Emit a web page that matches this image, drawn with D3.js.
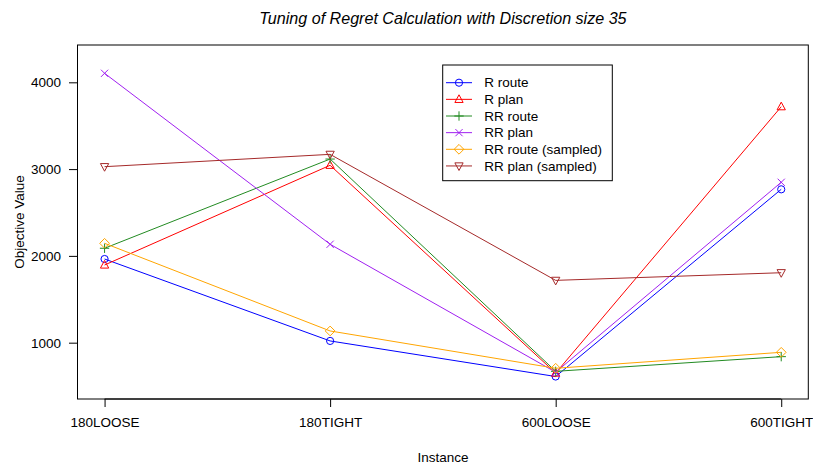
<!DOCTYPE html>
<html><head><meta charset="utf-8">
<script src="https://cdn.jsdelivr.net/npm/d3@7"></script>
<style>
body{margin:0;background:#fff;}
text{font-family:"Liberation Sans",Arial,sans-serif;}
</style></head>
<body><svg id="c" width="813" height="466"></svg>
<script>
const categories = ["180LOOSE","180TIGHT","600LOOSE","600TIGHT"];
const seriesNames = ["R route","R plan","RR route","RR plan","RR route (sampled)","RR plan (sampled)"];
const rRoute   = [1964, 1020, 610, 2767];
const rPlan    = [1895, 3044, 650, 3719];
const rrRoute  = [2088, 3116, 670, 839];
const rrPlan   = [4104, 2134, 660, 2848];
const rrRouteS = [2145, 1135, 705, 889];
const rrPlanS  = [3028, 3170, 1718, 1806];
const yTicks   = [1000, 2000, 3000, 4000];

const seriesValues = [rRoute, rPlan, rrRoute, rrPlan, rrRouteS, rrPlanS];
const colors = ["#0000FF","#FF0000","#228B22","#A020F0","#FFA500","#A52A2A"];
const shapes = ["circle","triUp","plus","cross","diamond","triDown"];

const svg = d3.select("#c");
const L=77.5, R=808.3, T=45, B=399;
const x = d3.scalePoint().domain(categories).range([L,R]).padding(0.12);
const y = d3.scaleLinear().domain([351, 4430]).range([B,T]);

function sym(shape){
  const s=3.6;
  switch(shape){
    case "circle": return `M${-s},0A${s},${s} 0 1,0 ${s},0A${s},${s} 0 1,0 ${-s},0Z`;
    case "triUp": {const h=s*1.15; return `M0,${-h*1.1}L${h},${h*0.75}L${-h},${h*0.75}Z`;}
    case "triDown": {const h=s*1.15; return `M0,${h*1.1}L${h},${-h*0.75}L${-h},${-h*0.75}Z`;}
    case "plus": {const h=s*1.3; return `M${-h},0L${h},0M0,${-h}L0,${h}`;}
    case "cross": {const h=s; return `M${-h},${-h}L${h},${h}M${-h},${h}L${h},${-h}`;}
    case "diamond": {const h=s*1.35; return `M0,${-h}L${h},0L0,${h}L${-h},0Z`;}
  }
}

// title
svg.append("text").attr("x",(L+R)/2).attr("y",23.5).attr("text-anchor","middle")
  .attr("font-size",16.1).attr("font-style","italic").text("Tuning of Regret Calculation with Discretion size 35");

// box
svg.append("rect").attr("x",L).attr("y",T).attr("width",R-L).attr("height",B-T)
  .attr("fill","none").attr("stroke","#000").attr("stroke-width",1);

// x axis
const xa = svg.append("g").attr("transform",`translate(0,${B})`)
  .call(d3.axisBottom(x).tickSize(8).tickPadding(10));
xa.select(".domain").remove();
xa.selectAll("text").attr("font-size",13.5).attr("font-family","Liberation Sans, Arial, sans-serif").attr("fill","#000").attr("dy","0.32em").attr("y",24);
xa.selectAll("line").attr("stroke","#000");
svg.append("line").attr("x1",x(categories[0])).attr("x2",x(categories[3])).attr("y1",B).attr("y2",B).attr("stroke","#000");

// y axis
const ya = svg.append("g").attr("transform",`translate(${L},0)`)
  .call(d3.axisLeft(y).tickValues(yTicks).tickFormat(d3.format("d")).tickSize(8.5).tickPadding(8));
ya.select(".domain").remove();
ya.selectAll("text").attr("font-size",13.5).attr("font-family","Liberation Sans, Arial, sans-serif").attr("fill","#000");
ya.selectAll("line").attr("stroke","#000");

// axis titles
svg.append("text").attr("x",(L+R)/2).attr("y",462).attr("text-anchor","middle").attr("font-size",13.5).text("Instance");
svg.append("text").attr("transform",`translate(24,${(T+B)/2}) rotate(-90)`).attr("text-anchor","middle").attr("font-size",13.5).text("Objective Value");

// series
const line = d3.line().x((d,i)=>x(categories[i])).y(d=>y(d));
seriesValues.forEach((vals,k)=>{
  const g = svg.append("g");
  g.append("path").attr("d",line(vals)).attr("fill","none").attr("stroke",colors[k]).attr("stroke-width",1);
  g.selectAll("path.pt").data(vals).enter().append("path").attr("class","pt")
    .attr("transform",(d,i)=>`translate(${x(categories[i])},${y(d)})`)
    .attr("d",sym(shapes[k])).attr("fill","none").attr("stroke",colors[k]).attr("stroke-width",1);
});

// legend
const lg = svg.append("g");
lg.append("rect").attr("x",442.7).attr("y",65).attr("width",169.6).attr("height",115.7)
  .attr("fill","#fff").attr("stroke","#000").attr("stroke-width",1);
seriesNames.forEach((n,k)=>{
  const yy = 82.7 + k*16.65;
  lg.append("line").attr("x1",446).attr("x2",472).attr("y1",yy).attr("y2",yy).attr("stroke",colors[k]);
  lg.append("path").attr("transform",`translate(459,${yy})`).attr("d",sym(shapes[k])).attr("fill","none").attr("stroke",colors[k]);
  lg.append("text").attr("x",484.3).attr("y",yy).attr("dy","0.35em").attr("font-size",13.5).text(n);
});
</script></body></html>
